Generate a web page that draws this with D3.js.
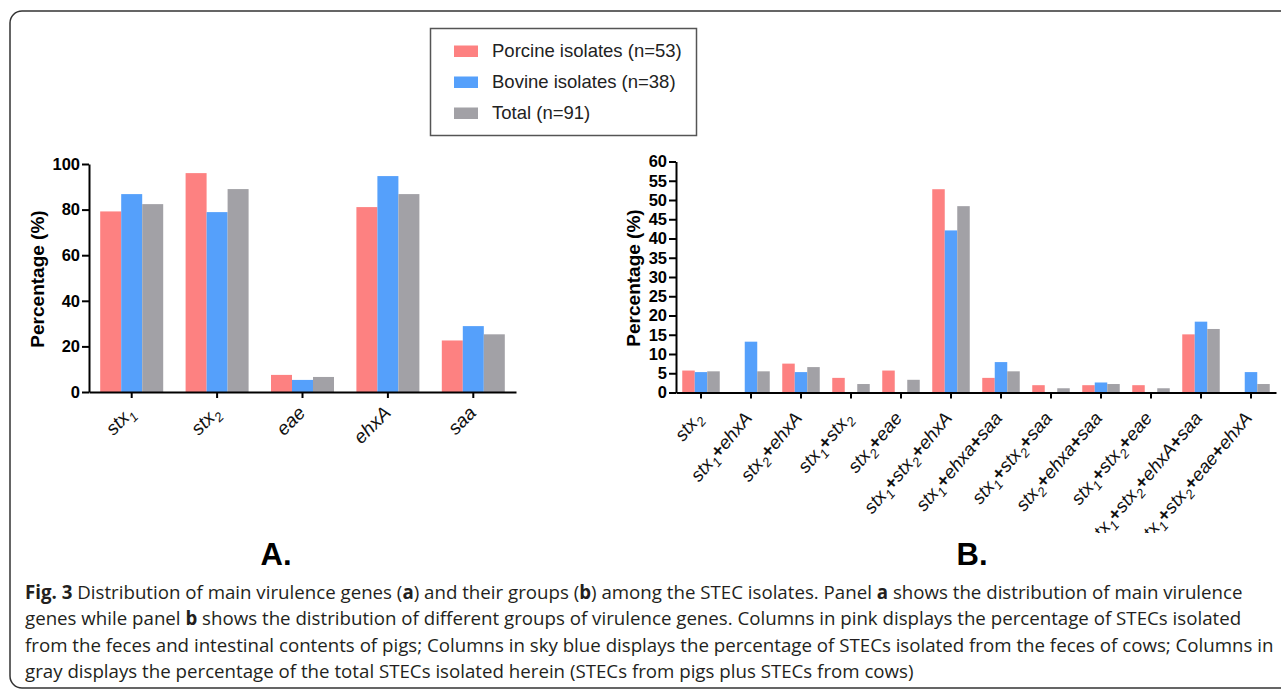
<!DOCTYPE html>
<html>
<head>
<meta charset="utf-8">
<script src="https://cdn.jsdelivr.net/npm/d3@7"></script>
<style>
  body { margin: 0; background: #fff; }
  svg { display: block; }
</style>
</head>
<body>
<div class="display"></div>
<script>
// series
const seriesNames = ['Porcine isolates (n=53)', 'Bovine isolates (n=38)', 'Total (n=91)'];
const seriesColors = ['#fd8181', '#55a0fb', '#a2a1a6'];

// panel A: main virulence genes ("_" marks a subscript)
const genesA = ['stx_1', 'stx_2', 'eae', 'ehxA', 'saa'];
const porcineA = [79.2, 96.0, 7.5, 81.1, 22.6];
const bovineA = [86.8, 78.9, 5.3, 94.7, 28.9];
const totalA = [82.4, 89.0, 6.6, 86.8, 25.3];
const ticksA = [0, 20, 40, 60, 80, 100];

// panel B: groups of virulence genes
const groupsB = ['stx_2', 'stx_1+ehxA', 'stx_2+ehxA', 'stx_1+stx_2', 'stx_2+eae', 'stx_1+stx_2+ehxA',
  'stx_1+ehxa+saa', 'stx_1+stx_2+saa', 'stx_2+ehxa+saa', 'stx_1+stx_2+eae', 'stx_1+stx_2+ehxA+saa',
  'stx_1+stx_2+eae+ehxA'];
const porcineB = [5.7, 0, 7.5, 3.8, 5.7, 52.8, 3.8, 1.9, 1.9, 1.9, 15.1, 0];
const bovineB = [5.3, 13.2, 5.3, 0, 0, 42.1, 7.9, 0, 2.6, 0, 18.4, 5.3];
const totalB = [5.5, 5.5, 6.6, 2.2, 3.3, 48.4, 5.5, 1.1, 2.2, 1.1, 16.5, 2.2];
const ticksB = [0, 5, 10, 15, 20, 25, 30, 35, 40, 45, 50, 55, 60];

const captionLines = [
  [['Fig. 3', true], [' Distribution of main virulence genes (', false], ['a', true], [') and their groups (', false], ['b', true], [') among the STEC isolates. Panel ', false], ['a', true], [' shows the distribution of main virulence', false]],
  [['genes while panel ', false], ['b', true], [' shows the distribution of different groups of virulence genes. Columns in pink displays the percentage of STECs isolated', false]],
  [['from the feces and intestinal contents of pigs; Columns in sky blue displays the percentage of STECs isolated from the feces of cows; Columns in', false]],
  [['gray displays the percentage of the total STECs isolated herein (STECs from pigs plus STECs from cows)', false]]
];

const config = {
  width: 1281,
  height: 689,
  panelA: {
    id: 'a', x0: 89, x1: 516, y0: 392, y1: 164, max: 100,
    groupWidth: 63, title: 'A.', titleX: 276, axisTitleX: 37,
    labelAngle: 45, labelDx: 4, labelDy: 22, labelSize: 19
  },
  panelB: {
    id: 'b', x0: 676, x1: 1276, y0: 392.5, y1: 161.5, max: 60,
    groupWidth: 37.5, title: 'B.', titleX: 972, axisTitleX: 633,
    labelAngle: 50, labelDx: 2, labelDy: 26, labelSize: 18.5
  },
  // the plot image is cropped just under the longest labels
  labelClipBottom: 533
};

let svg;

function setupSvg() {
  svg = d3.select('.display')
    .append('svg')
    .attr('width', config.width)
    .attr('height', config.height);

  svg.append('defs')
    .append('clipPath')
    .attr('id', 'label-clip')
    .append('rect')
    .attr('x', 0).attr('y', 0)
    .attr('width', config.width)
    .attr('height', config.labelClipBottom);

  // rounded figure frame
  svg.append('path')
    .attr('d', 'M1290,11 H22 A12,12 0 0 0 10,23 V676 A12,12 0 0 0 22,688 H1290')
    .attr('fill', 'none')
    .attr('stroke', '#333')
    .attr('stroke-width', 1.5);
}

function drawLegend() {
  const g = svg.append('g');
  g.append('rect')
    .attr('x', 430.5).attr('y', 28.5)
    .attr('width', 266).attr('height', 107)
    .attr('fill', '#fff')
    .attr('stroke', '#555')
    .attr('stroke-width', 1.5);

  seriesNames.forEach((name, i) => {
    g.append('rect')
      .attr('x', 454).attr('y', 45.5 + i * 31)
      .attr('width', 24).attr('height', 11.5)
      .attr('fill', seriesColors[i]);
    g.append('text')
      .attr('x', 492).attr('y', 57 + i * 31)
      .style('font-family', 'Liberation Sans, Arial, sans-serif')
      .style('font-size', '18.5px')
      .attr('fill', '#222')
      .text(name);
  });
}

function appendGeneLabel(text, label) {
  let pendingDy = 0;
  const add = (str, opts) => {
    const t = text.append('tspan').text(str);
    let dy = pendingDy;
    pendingDy = 0;
    if (opts && opts.sub) {
      dy += 5;
      pendingDy = -5;
      t.style('font-size', '13px');
    }
    if (opts && opts.bold) t.style('font-weight', 'bold').style('font-style', 'normal');
    if (dy) t.attr('dy', dy);
  };
  label.split('+').forEach((part, i) => {
    if (i > 0) add('+', { bold: true });
    const [name, sub] = part.split('_');
    add(name);
    if (sub) add(sub, { sub: true });
  });
}

function drawPanel(cfg, categories, series, ticks) {
  const g = svg.append('g');

  const x = d3.scaleBand()
    .domain(categories)
    .range([cfg.x0, cfg.x1]);

  const xSeries = d3.scaleBand()
    .domain(d3.range(series.length))
    .range([-cfg.groupWidth / 2, cfg.groupWidth / 2]);

  const y = d3.scaleLinear()
    .domain([0, cfg.max])
    .range([cfg.y0, cfg.y1]);

  // bars
  series.forEach((values, s) => {
    g.append('g')
      .selectAll('rect')
      .data(values)
      .enter()
      .append('rect')
      .attr('x', (d, i) => x(categories[i]) + x.bandwidth() / 2 + xSeries(s))
      .attr('y', d => y(d))
      .attr('width', xSeries.bandwidth())
      .attr('height', d => y(0) - y(d))
      .attr('fill', seriesColors[s]);
  });

  // y axis
  const yAxis = g.append('g')
    .attr('transform', `translate(${cfg.x0}, 0)`)
    .call(d3.axisLeft(y).tickValues(ticks).tickSize(7).tickSizeOuter(0).tickPadding(2));
  yAxis.selectAll('text')
    .style('font-family', 'Liberation Sans, Arial, sans-serif')
    .style('font-size', '16.5px')
    .style('font-weight', 'bold')
    .attr('fill', '#000');

  // x axis
  g.append('g')
    .attr('transform', `translate(0, ${cfg.y0})`)
    .call(d3.axisBottom(x).tickSize(6).tickSizeOuter(0).tickFormat(''));

  g.selectAll('.domain, .tick line')
    .attr('stroke', '#000')
    .attr('stroke-width', 2);

  // rotated category labels
  const labels = g.append('g').attr('clip-path', 'url(#label-clip)');
  categories.forEach(c => {
    const px = x(c) + x.bandwidth() / 2 + cfg.labelDx;
    const py = cfg.y0 + cfg.labelDy;
    const t = labels.append('text')
      .attr('x', px).attr('y', py)
      .attr('transform', `rotate(${-cfg.labelAngle}, ${px}, ${py})`)
      .attr('text-anchor', 'end')
      .style('font-family', 'Liberation Sans, Arial, sans-serif')
      .style('font-size', cfg.labelSize + 'px')
      .style('font-style', 'italic')
      .attr('fill', '#111');
    appendGeneLabel(t, c);
  });

  // y axis title
  const ty = (cfg.y0 + cfg.y1) / 2 + 1;
  g.append('text')
    .attr('x', cfg.axisTitleX).attr('y', ty)
    .attr('transform', `rotate(-90, ${cfg.axisTitleX}, ${ty})`)
    .attr('text-anchor', 'middle')
    .attr('dominant-baseline', 'central')
    .style('font-family', 'Liberation Sans, Arial, sans-serif')
    .style('font-size', '19px')
    .style('font-weight', 'bold')
    .text('Percentage (%)');

  // panel letter
  g.append('text')
    .attr('x', cfg.titleX).attr('y', 565)
    .attr('text-anchor', 'middle')
    .style('font-family', 'Liberation Sans, Arial, sans-serif')
    .style('font-size', '31px')
    .style('font-weight', 'bold')
    .text(cfg.title);
}

function drawCaption() {
  captionLines.forEach((parts, i) => {
    const t = svg.append('text')
      .attr('x', 25).attr('y', 599 + i * 26.3)
      .style('font-family', 'Open Sans, sans-serif')
      .style('font-size', '18.7px')
      .attr('fill', '#231f20');
    parts.forEach(([str, bold]) => {
      t.append('tspan')
        .style('font-weight', bold ? 'bold' : 'normal')
        .text(str);
    });
  });
}

window.addEventListener('load', () => {
  setupSvg();
  drawLegend();
  drawPanel(config.panelA, genesA, [porcineA, bovineA, totalA], ticksA);
  drawPanel(config.panelB, groupsB, [porcineB, bovineB, totalB], ticksB);
  drawCaption();
}, false);
</script>
</body>
</html>
